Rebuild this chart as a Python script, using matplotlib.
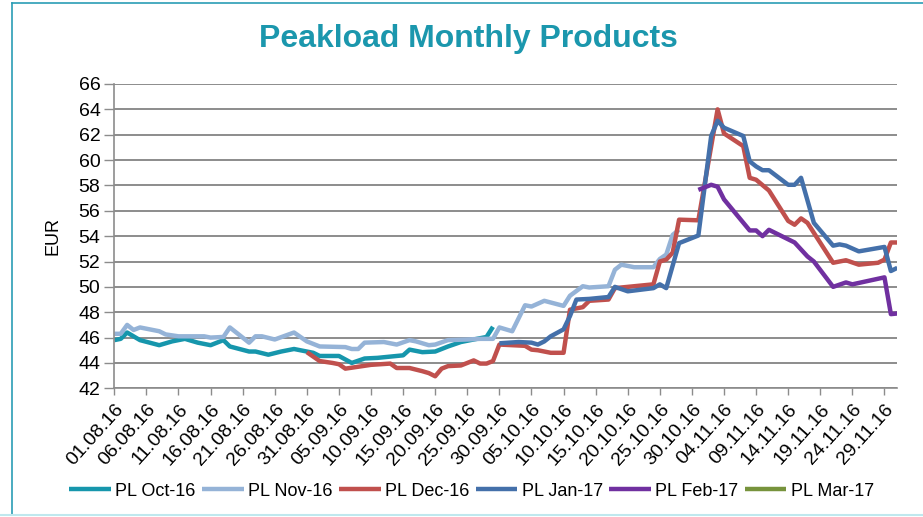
import numpy as np
import matplotlib
matplotlib.use("Agg")
import matplotlib.pyplot as plt
import matplotlib.dates as mdates
from matplotlib.lines import Line2D

plt.rcParams['font.family'] = ['Liberation Sans', 'DejaVu Sans']

# ---------------- data ----------------
start_date = np.datetime64('2016-08-01')
axis_end_day = 122          # 01.12.16
tick_step_days = 5
y_ticks = [42, 44, 46, 48, 50, 52, 54, 56, 58, 60, 62, 64, 66]

series_names = ['PL Oct-16', 'PL Nov-16', 'PL Dec-16', 'PL Jan-17', 'PL Feb-17', 'PL Mar-17']

# days after 01.08.16 and prices in EUR
oct16_days = [0, 1, 2, 4, 7, 9, 11, 13, 15, 17, 18, 21, 22, 24, 26, 28, 29, 31, 32, 35,
              37, 39, 41, 43, 45, 46, 48, 50, 52, 54, 56, 58, 59]
oct16_vals = [45.8, 45.9, 46.4, 45.8, 45.4, 45.7, 45.9, 45.6, 45.4, 45.8, 45.3, 44.9, 44.9,
              44.65, 44.9, 45.1, 45.0, 44.8, 44.55, 44.55, 44.0, 44.35, 44.4, 44.5, 44.6,
              45.05, 44.85, 44.9, 45.3, 45.65, 45.85, 46.05, 46.85]

nov16_days = [0, 1, 2, 3, 4, 7, 8, 10, 14, 15, 17, 18, 21, 22, 23, 25, 28, 30, 32, 36, 37,
              38, 39, 42, 44, 46, 47, 49, 50, 52, 55, 57, 59, 60, 62, 64, 65, 67, 70, 71,
              73, 74, 77, 78, 79, 81, 84, 85, 86, 87, 88]
nov16_vals = [46.3, 46.3, 47.0, 46.6, 46.8, 46.5, 46.25, 46.1, 46.1, 46.0, 46.05, 46.8, 45.6,
              46.1, 46.1, 45.85, 46.4, 45.7, 45.3, 45.25, 45.1, 45.1, 45.6, 45.65, 45.45,
              45.8, 45.7, 45.4, 45.45, 45.8, 45.85, 45.9, 45.9, 46.8, 46.5, 48.55, 48.45,
              48.9, 48.5, 49.3, 50.05, 49.95, 50.05, 51.35, 51.75, 51.55, 51.55, 52.2,
              52.55, 54.1, 54.5]

dec16_days = [30, 32, 34, 35, 36, 38, 40, 43, 44, 46, 48, 49, 50, 51, 52, 54, 56, 57, 58, 59,
              60, 62, 64, 65, 66, 68, 70, 71, 73, 74, 77, 78, 81, 84, 85, 86, 87, 88, 91,
              94, 95, 98, 99, 100, 102, 105, 106, 107, 108, 112, 114, 116, 119, 120, 121, 122]
dec16_vals = [44.85, 44.15, 44.0, 43.9, 43.55, 43.7, 43.85, 43.95, 43.6, 43.6, 43.35, 43.2,
              42.95, 43.55, 43.75, 43.8, 44.2, 43.95, 43.95, 44.15, 45.45, 45.4, 45.35, 45.05,
              45.0, 44.8, 44.8, 48.2, 48.4, 48.9, 49.0, 49.9, 50.05, 50.2, 52.0, 52.15, 52.7,
              55.3, 55.25, 64.0, 62.1, 61.1, 58.6, 58.45, 57.6, 55.2, 54.9, 55.4, 55.05,
              51.9, 52.1, 51.75, 51.9, 52.15, 53.5, 53.5]

jan17_days = [60, 63, 65, 66, 67, 68, 70, 71, 72, 74, 77, 78, 80, 84, 85, 86, 88, 91, 93, 94,
              95, 98, 99, 100, 101, 102, 105, 106, 107, 109, 112, 113, 114, 116, 120, 121, 122]
jan17_vals = [45.55, 45.65, 45.6, 45.45, 45.7, 46.1, 46.65, 47.7, 49.0, 49.05, 49.2, 50.0,
              49.65, 49.9, 50.2, 49.9, 53.45, 54.05, 61.9, 63.1, 62.55, 61.9, 59.9, 59.5,
              59.2, 59.2, 58.05, 58.05, 58.6, 55.05, 53.25, 53.35, 53.25, 52.8, 53.15,
              51.25, 51.5]

feb17_days = [91, 93, 94, 95, 99, 100, 101, 102, 106, 108, 109, 112, 114, 115, 120, 121, 122]
feb17_vals = [57.65, 58.05, 57.9, 56.9, 54.45, 54.45, 54.0, 54.5, 53.5, 52.4, 52.0, 50.0,
              50.35, 50.2, 50.75, 47.85, 47.9]

mar17_days = []
mar17_vals = []

series_colors = ['#1696AC', '#95B3D7', '#C0504D', '#4470AA', '#7030A0', '#77933C']

# ---------------- plot ----------------
fig = plt.figure(figsize=(9.23, 5.17), dpi=100)
ax = fig.add_axes([114.3 / 923, 1 - 388.3 / 517, (897.3 - 114.3) / 923, (388.3 - 84) / 517])

all_days = [oct16_days, nov16_days, dec16_days, jan17_days, feb17_days, mar17_days]
all_vals = [oct16_vals, nov16_vals, dec16_vals, jan17_vals, feb17_vals, mar17_vals]

def to_dates(days):
    return start_date + np.array(days, dtype='timedelta64[D]')

handles = []
for name, d, v, c in zip(series_names, all_days, all_vals, series_colors):
    h, = ax.plot(to_dates(d), v, color=c, lw=3.2, solid_joinstyle='round',
                 solid_capstyle='butt', label=name)
    handles.append(h)

ax.set_xlim(start_date, start_date + np.timedelta64(axis_end_day, 'D'))
ax.set_ylim(y_ticks[0], y_ticks[-1])
ax.set_yticks(y_ticks)
ax.yaxis.grid(True, color='#8C8C8C', lw=1.4)
ax.set_axisbelow(True)

xt = start_date + np.arange(0, axis_end_day - 1, tick_step_days).astype('timedelta64[D]')
ax.set_xticks(xt)
ax.xaxis.set_major_formatter(mdates.DateFormatter('%d.%m.%y'))
plt.setp(ax.get_xticklabels(), rotation=48, ha='right', rotation_mode='anchor', fontsize=14)
ax.tick_params(axis='x', direction='out', length=5, width=1, color='#8C8C8C', pad=4)
ax.tick_params(axis='y', direction='out', length=7, width=1, color='#8C8C8C', labelsize=14, pad=3)

for s in ['top', 'right']:
    ax.spines[s].set_visible(False)
for s in ['left', 'bottom']:
    ax.spines[s].set_color('#8C8C8C')
    ax.spines[s].set_linewidth(1.2)

ax.set_ylabel('EUR', fontsize=13, labelpad=12)

fig.text(0.508, 0.925, 'Peakload Monthly Products', ha='center', va='center',
         fontsize=23, fontweight='bold', color='#1B97AD')

fig.legend(handles=handles, loc='center', bbox_to_anchor=(0.511, 0.05), ncol=6,
           frameon=False, fontsize=13, handlelength=2.3, handletextpad=0.25,
           columnspacing=0.35)

# chart frame
fig.add_artist(Line2D([12 / 923, 12 / 923], [1 - 3 / 517, 1 - 514 / 517],
                      transform=fig.transFigure, color='#2A9DB5', lw=1.2))
fig.add_artist(Line2D([12 / 923, 1.0], [1 - 3 / 517, 1 - 3 / 517],
                      transform=fig.transFigure, color='#2A9DB5', lw=1.2))
fig.add_artist(Line2D([0, 1.0], [1 - 515 / 517, 1 - 515 / 517],
                      transform=fig.transFigure, color='#BFE8EE', lw=1.5))

fig.savefig('out.png', dpi=100)
